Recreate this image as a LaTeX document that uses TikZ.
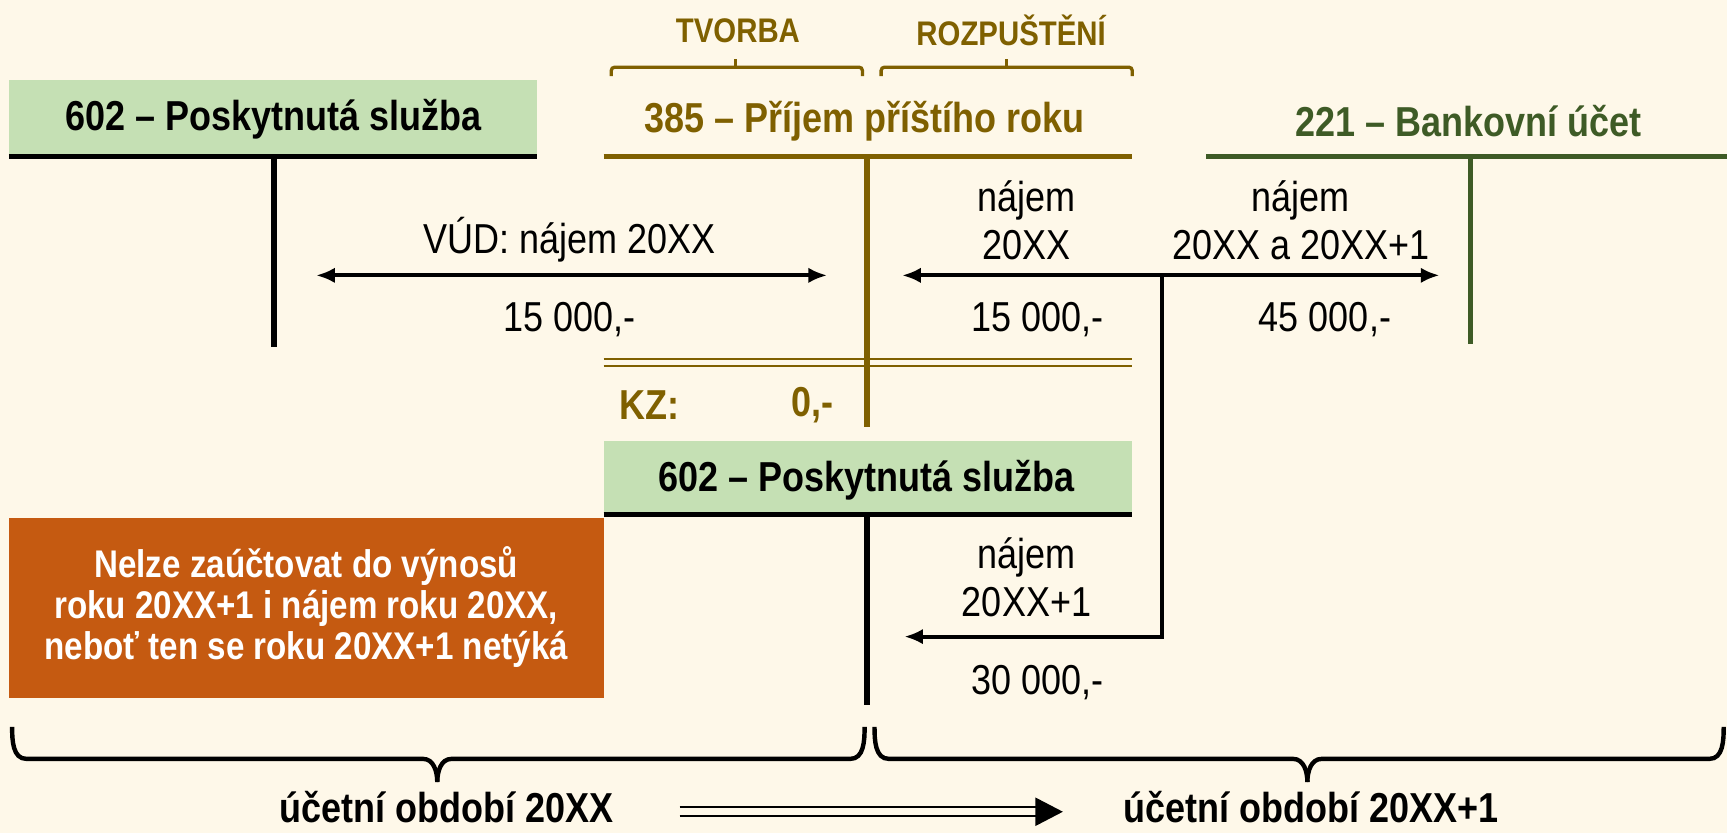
\documentclass[tikz,border=0pt]{standalone}
\usepackage{fontspec}
\setmainfont{Liberation Sans}[FakeStretch=0.86]
\usetikzlibrary{arrows.meta}
\definecolor{bg}{HTML}{FEF8E9}
\definecolor{lgreen}{HTML}{C5E0B4}
\definecolor{olive}{HTML}{7F6000}
\definecolor{dgreen}{HTML}{3E5B26}
\definecolor{orng}{HTML}{C55A11}
\tikzset{
  x=1pt, y=-1pt,
  title/.style={font=\fontsize{38}{44}\selectfont\bfseries, inner sep=0pt},
  lbl/.style={font=\fontsize{38}{44}\selectfont, align=center, inner sep=0pt},
  tline/.style={line width=5pt},
  arr/.style={line width=3.5pt, -{Latex[length=17pt,width=14pt]}},
  darr/.style={line width=3.5pt, {Latex[length=17pt,width=14pt]}-{Latex[length=17pt,width=14pt]}},
  brk/.style={line width=3pt, olive, rounded corners=3pt},
  brace/.style={line width=4pt},
}
\begin{document}
\begin{tikzpicture}
\fill[bg] (0,0) rectangle (1568,756);
\useasboundingbox (0,0) rectangle (1568,756);

% top labels and brackets
\node[title, olive, font=\fontsize{31}{36}\selectfont\bfseries] (tv) at (670,28) {TVORBA};
\node[title, olive, font=\fontsize{31}{36}\selectfont\bfseries] (rz) at (918,28) {ROZPUŠTĚNÍ};
\draw[brk] (555,69) |- (783,61) -- (783,69);
\draw[brk] (668,61) -- (668,54);
\draw[brk] (800,69) |- (1028,61) -- (1028,69);
\draw[brk] (914,61) -- (914,54);

% 602 top-left
\fill[lgreen] (8,73) rectangle (488,140);
\node[title] (t602a) at (248,108) {602 – Poskytnutá služba};
\draw[tline] (8,142) -- (488,142);
\draw[tline] (249,142) -- (249,315);

% 385
\node[title, olive] (t385) at (785,110) {385 – Příjem příštího roku};
\draw[tline, olive] (548,142) -- (1028,142);
\draw[tline, olive] (787,142) -- (787,388);
\draw[line width=2pt, olive] (548,326) -- (1028,326);
\draw[line width=2pt, olive] (548,332) -- (1028,332);
\node[title, olive] (kz) at (590,368) {KZ:};
\node[title, olive] (kz0) at (738,368) {0,-};

% 221
\node[title, dgreen] (t221) at (1333,110) {221 – Bankovní účet};
\draw[tline, dgreen] (1095,142) -- (1568,142);
\draw[tline, dgreen] (1335,142) -- (1335,312);

% arrows
\coordinate (vl) at (287,250);
\coordinate (vr) at (751,250);
\draw[darr] (vl) -- (vr);
\node[lbl] (vud) at (517,218) {VÚD: nájem 20XX};
\node[lbl] (v15) at (517,290) {15 000,-};

\coordinate (jn) at (1055,250);
\coordinate (al) at (819,250);
\coordinate (ar) at (1307,250);
\coordinate (jb) at (1055,578);
\coordinate (bl) at (821,578);
\draw[arr] (jn) -- (al);
\draw[arr] (jn) -- (ar);
\draw[arr] (jn) -- (jb) -- (bl);
\node[lbl] (n1) at (932,200) {nájem\\20XX};
\node[lbl] (n15) at (942,290) {15 000,-};
\node[lbl] (n2) at (1181,200) {nájem\\20XX a 20XX+1};
\node[lbl] (n45) at (1203,290) {45 000,-};

% 602 bottom
\fill[lgreen] (548,400) rectangle (1028,465);
\node[title] (t602b) at (787,436) {602 – Poskytnutá služba};
\draw[tline] (548,467) -- (1028,467);
\draw[tline] (787,467) -- (787,640);
\node[lbl] (n3) at (932,524) {nájem\\20XX+1};
\node[lbl] (n30) at (942,620) {30 000,-};

% orange box
\fill[orng] (8,470) rectangle (548,634);
\node[title, white, align=center, font=\fontsize{35}{37}\selectfont\bfseries] (ob) at (278,551)
  {Nelze zaúčtovat do výnosů\\roku 20XX+1 i nájem roku 20XX,\\neboť ten se roku 20XX+1 netýká};

% braces
\draw[brace] (11,660) to[out=-90,in=180] (24,689) -- (384,689) to[out=0,in=90] (397,710);
\draw[brace] (397,710) to[out=90,in=180] (410,689) -- (772,689) to[out=0,in=-90] (785,660);
\draw[brace] (794,660) to[out=-90,in=180] (807,689) -- (1174,689) to[out=0,in=90] (1187,710);
\draw[brace] (1187,710) to[out=90,in=180] (1200,689) -- (1552,689) to[out=0,in=-90] (1565,660);

% bottom labels
\node[title, anchor=base] (p1) at (405,747) {účetní období 20XX};
\node[title, anchor=base] (p2) at (1190,747) {účetní období 20XX+1};
\draw[line width=2pt] (617,733) -- (945,733);
\draw[line width=2pt] (617,741) -- (945,741);
\fill (940,724) -- (965,737) -- (940,750) -- cycle;
\end{tikzpicture}
\end{document}
